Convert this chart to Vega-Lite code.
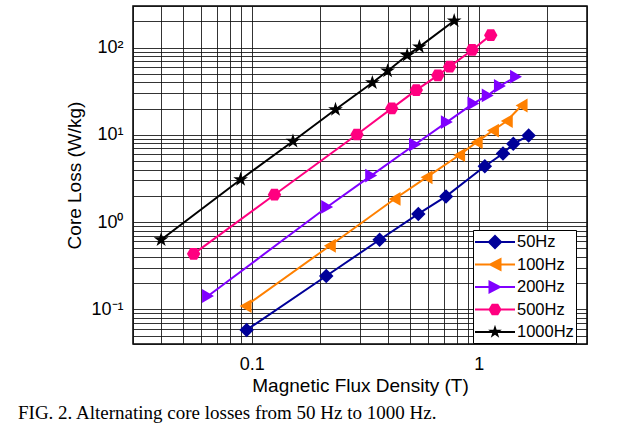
{
  "$schema": "https://vega.github.io/schema/vega-lite/v6.json",
  "width": 454,
  "height": 338,
  "autosize": {"type": "none"},
  "padding": {"left": 133, "top": 6, "right": 54, "bottom": 81},
  "background": "white",
  "config": {
    "view": {"stroke": "black", "strokeWidth": 1.5},
    "font": "Liberation Sans",
    "axis": {
      "grid": true,
      "gridColor": "#111111",
      "gridWidth": 1,
      "gridOpacity": 0.85,
      "ticks": false,
      "domain": false,
      "labelColor": "black",
      "titleColor": "black",
      "labelFont": "Liberation Sans",
      "titleFont": "Liberation Sans",
      "labelFontSize": 18,
      "titleFontSize": 19,
      "titleFontWeight": "normal",
      "labelOverlap": false,
      "labelFlush": false
    }
  },
  "title": {
    "text": "FIG. 2. Alternating core losses from 50 Hz to 1000 Hz.",
    "orient": "bottom",
    "anchor": "start",
    "frame": "group",
    "font": "Liberation Serif",
    "fontSize": 19,
    "fontWeight": "normal",
    "color": "black",
    "dx": -115,
    "offset": 9
  },
  "data": {
    "values": [
      {"f": "50Hz", "B": 0.095, "P": 0.058},
      {"f": "50Hz", "B": 0.213, "P": 0.241},
      {"f": "50Hz", "B": 0.366, "P": 0.627},
      {"f": "50Hz", "B": 0.542, "P": 1.24},
      {"f": "50Hz", "B": 0.718, "P": 1.97},
      {"f": "50Hz", "B": 1.064, "P": 4.36},
      {"f": "50Hz", "B": 1.28, "P": 6.1},
      {"f": "50Hz", "B": 1.42, "P": 7.88},
      {"f": "50Hz", "B": 1.66, "P": 9.8},
      {"f": "100Hz", "B": 0.094, "P": 0.109},
      {"f": "100Hz", "B": 0.221, "P": 0.535},
      {"f": "100Hz", "B": 0.426, "P": 1.84},
      {"f": "100Hz", "B": 0.589, "P": 3.26},
      {"f": "100Hz", "B": 0.82, "P": 5.84},
      {"f": "100Hz", "B": 0.98, "P": 8.24},
      {"f": "100Hz", "B": 1.156, "P": 11.2},
      {"f": "100Hz", "B": 1.33, "P": 14.4},
      {"f": "100Hz", "B": 1.545, "P": 21.7},
      {"f": "200Hz", "B": 0.0642, "P": 0.142},
      {"f": "200Hz", "B": 0.215, "P": 1.49},
      {"f": "200Hz", "B": 0.336, "P": 3.41},
      {"f": "200Hz", "B": 0.524, "P": 7.74},
      {"f": "200Hz", "B": 0.724, "P": 14.0},
      {"f": "200Hz", "B": 0.948, "P": 22.9},
      {"f": "200Hz", "B": 1.096, "P": 28.3},
      {"f": "200Hz", "B": 1.24, "P": 36.3},
      {"f": "200Hz", "B": 1.46, "P": 46.4},
      {"f": "500Hz", "B": 0.0555, "P": 0.432},
      {"f": "500Hz", "B": 0.126, "P": 2.06},
      {"f": "500Hz", "B": 0.291, "P": 10.1},
      {"f": "500Hz", "B": 0.414, "P": 20.1},
      {"f": "500Hz", "B": 0.531, "P": 32.6},
      {"f": "500Hz", "B": 0.661, "P": 48.1},
      {"f": "500Hz", "B": 0.745, "P": 60.5},
      {"f": "500Hz", "B": 0.936, "P": 94},
      {"f": "500Hz", "B": 1.13, "P": 139},
      {"f": "1000Hz", "B": 0.0399, "P": 0.627},
      {"f": "1000Hz", "B": 0.0894, "P": 3.07},
      {"f": "1000Hz", "B": 0.152, "P": 8.45},
      {"f": "1000Hz", "B": 0.234, "P": 19.5},
      {"f": "1000Hz", "B": 0.34, "P": 39.6},
      {"f": "1000Hz", "B": 0.397, "P": 54},
      {"f": "1000Hz", "B": 0.484, "P": 81.6},
      {"f": "1000Hz", "B": 0.548, "P": 102},
      {"f": "1000Hz", "B": 0.78, "P": 203}
    ]
  },
  "encoding": {
    "x": {
      "field": "B",
      "type": "quantitative",
      "scale": {"type": "log", "domain": [0.03, 3], "nice": false},
      "axis": {
        "title": "Magnetic Flux Density (T)",
        "values": [0.03, 0.04, 0.05, 0.06, 0.07, 0.08, 0.09, 0.1, 0.2, 0.3, 0.4, 0.5, 0.6, 0.7, 0.8, 0.9, 1, 2, 3],
        "labelExpr": "datum.value == 0.1 ? '0.1' : datum.value == 1 ? '1' : ''",
        "labelPadding": 11,
        "titlePadding": 3
      }
    },
    "y": {
      "field": "P",
      "type": "quantitative",
      "scale": {"type": "log", "domain": [0.04, 300], "nice": false},
      "axis": {
        "title": "Core Loss (W/kg)",
        "values": [0.04, 0.05, 0.06, 0.07, 0.08, 0.09, 0.1, 0.2, 0.3, 0.4, 0.5, 0.6, 0.7, 0.8, 0.9, 1, 2, 3, 4, 5, 6, 7, 8, 9, 10, 20, 30, 40, 50, 60, 70, 80, 90, 100, 200, 300],
        "labelExpr": "datum.value == 100 ? '10²' : datum.value == 10 ? '10¹' : datum.value == 1 ? '10⁰' : datum.value == 0.1 ? '10⁻¹' : ''",
        "labelPadding": 10,
        "titlePadding": 6
      }
    },
    "color": {
      "field": "f",
      "type": "nominal",
      "scale": {
        "domain": ["50Hz", "100Hz", "200Hz", "500Hz", "1000Hz"],
        "range": ["#000099", "#FF8000", "#8000FF", "#FF0080", "#000000"]
      },
      "legend": {
        "title": null,
        "orient": "none",
        "legendX": 340,
        "legendY": 224,
        "symbolSize": 400,
        "symbolOpacity": 1,
        "labelFontSize": 16.5,
        "labelColor": "black",
        "labelOffset": 22,
        "rowPadding": 3.5,
        "padding": 2,
        "strokeColor": "black",
        "fillColor": "white",
        "encode": {
          "symbols": {
            "update": {
              "fill": {"scale": "color", "field": "value"},
              "stroke": {"value": "transparent"},
              "strokeWidth": {"value": 0},
              "opacity": {"value": 1},
              "shape": {
                "signal": "datum.value == '50Hz' ? 'M-1,-0.1H3V0.1H-1Z M1,-0.75L1.75,0L1,0.75L0.25,0Z' : datum.value == '100Hz' ? 'M-1,-0.1H3V0.1H-1Z M1.65,-0.7L1.65,0.7L0.3,0Z' : datum.value == '200Hz' ? 'M-1,-0.1H3V0.1H-1Z M0.35,-0.7L1.7,0L0.35,0.7Z' : datum.value == '500Hz' ? 'M-1,-0.1H3V0.1H-1Z M0.68,-0.58L1.32,-0.58L1.66,0L1.32,0.58L0.68,0.58L0.34,0Z' : 'M-1,-0.1H3V0.1H-1Z M1,-0.72L1.162,-0.222L1.685,-0.222L1.262,0.085L1.423,0.582L1,0.275L0.577,0.582L0.738,0.085L0.315,-0.222L0.838,-0.222Z'"
              }
            }
          }
        }
      }
    }
  },
  "layer": [
    {"mark": {"type": "line", "strokeWidth": 2}},
    {
      "transform": [{"filter": "datum.f == '50Hz'"}],
      "mark": {"type": "point", "filled": true, "size": 210, "opacity": 1, "shape": "diamond"}
    },
    {
      "transform": [{"filter": "datum.f == '100Hz'"}],
      "mark": {"type": "point", "filled": true, "size": 190, "opacity": 1, "shape": "triangle-left"}
    },
    {
      "transform": [{"filter": "datum.f == '200Hz'"}],
      "mark": {"type": "point", "filled": true, "size": 190, "opacity": 1, "shape": "triangle-right"}
    },
    {
      "transform": [{"filter": "datum.f == '500Hz'"}],
      "mark": {"type": "point", "filled": true, "size": 180, "opacity": 1, "shape": "M-0.5,-0.87L0.5,-0.87L1,0L0.5,0.87L-0.5,0.87L-1,0Z"}
    },
    {
      "transform": [{"filter": "datum.f == '1000Hz'"}],
      "mark": {"type": "point", "filled": true, "size": 240, "opacity": 1, "shape": "M0,-1L0.2245,-0.309L0.951,-0.309L0.363,0.118L0.588,0.809L0,0.382L-0.588,0.809L-0.363,0.118L-0.951,-0.309L-0.2245,-0.309Z"}
    }
  ]
}
